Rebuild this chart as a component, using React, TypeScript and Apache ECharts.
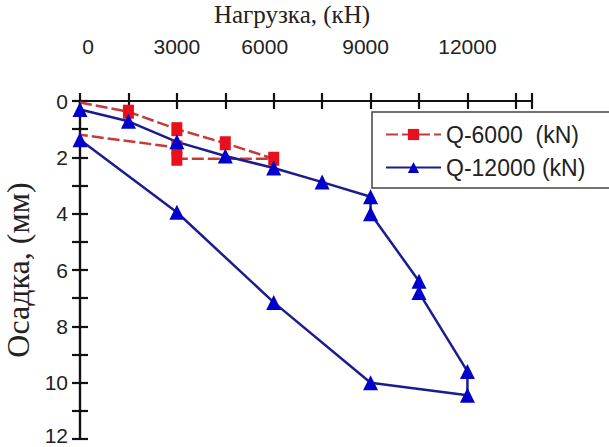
import React, { useEffect, useRef } from "react";
import * as echarts from "echarts";

// Q-6000 test: load (kN) and settlement (mm)
const load6000 = [0, 1500, 3000, 4500, 6000, 3000, 3000, 0];
const settle6000 = [0.05, 0.38, 1.0, 1.5, 2.05, 2.05, 1.65, 1.2];

// Q-12000 test: load (kN) and settlement (mm)
const load12000 = [0, 1500, 3000, 4500, 6000, 7500, 9000, 9000, 10500, 10500, 12000, 12000, 9000, 6000, 3000, 0];
const settle12000 = [0.3, 0.72, 1.45, 1.95, 2.38, 2.88, 3.4, 4.0, 6.4, 6.8, 9.6, 10.45, 10.0, 7.15, 3.95, 1.38];

const seriesNames = ["Q-6000  (kN)", "Q-12000 (kN)"];
const xTickLabels = [0, 3000, 6000, 9000, 12000];
const yTickLabels = [0, 2, 4, 6, 8, 10, 12];
const xTitle = "Нагрузка, (кН)";
const yTitle = "Осадка, (мм)";

const SANS = "Arial";
const SERIF = "Times New Roman";

export default function App() {
  const ref = useRef<HTMLDivElement>(null);
  useEffect(() => {
    if (!ref.current) return;
    const chart = echarts.init(ref.current, null, { renderer: "svg" });
    const axisLine = { show: true, lineStyle: { color: "#111", width: 2.2 } };
    const axisTick = { show: true, inside: true, length: 8, lineStyle: { color: "#111", width: 2.2 } };
    const labelFont = { fontFamily: SANS, fontSize: 21, color: "#222" };
    const lastIdx6000 = load6000.length - 1;
    const richStyle = { fontFamily: SANS, fontSize: 21, color: "#222" };
    const yMaxLabel = yTickLabels[yTickLabels.length - 1];
    chart.setOption({
      animation: false,
      backgroundColor: "#fff",
      grid: { left: 80, right: 77, top: 101, bottom: 8, containLabel: false, outerBoundsMode: "none" },
      legend: {
        data: seriesNames,
        orient: "vertical",
        left: 372,
        top: 112,
        padding: [11, 80, 9, 13],
        itemWidth: 55,
        itemHeight: 14,
        itemGap: 10,
        borderColor: "#444",
        borderWidth: 1.5,
        backgroundColor: "#fff",
        textStyle: { fontFamily: SANS, fontSize: 23, color: "#222" },
      },
      xAxis: [
        {
          type: "value",
          position: "top",
          min: 0,
          max: 14000,
          interval: 1500,
          axisLine,
          axisTick,
          splitLine: { show: false },
          axisLabel: {
            ...labelFont,
            margin: 44,
            formatter: (v: number) => {
              if (!xTickLabels.includes(v)) return "";
              if (v === 0) return "{r|" + v + "}";
              if (v === 6000) return "{l|" + v + "}";
              if (v === 9000) return "{m|" + v + "}";
              return "{n|" + v + "}";
            },
            rich: {
              r: { ...richStyle, padding: [0, 0, 0, 16] },
              l: { ...richStyle, padding: [0, 18, 0, 0] },
              m: { ...richStyle, padding: [0, 10, 0, 0] },
              n: { ...richStyle },
            },
          },
          name: xTitle,
          nameLocation: "middle",
          nameGap: 74,
          nameTextStyle: { fontFamily: SERIF, fontSize: 25, color: "#222", padding: [0, 28, 0, 0] },
        },
        {
          type: "value",
          position: "bottom",
          min: 0,
          max: 14000,
          interval: 1500,
          axisLine,
          axisTick,
          splitLine: { show: false },
          axisLabel: { show: false },
        },
      ],
      yAxis: [
        {
          type: "value",
          inverse: true,
          position: "left",
          min: 0,
          max: 12,
          interval: 1,
          axisLine,
          axisTick,
          splitLine: { show: false },
          axisLabel: {
            ...labelFont,
            margin: 12,
            formatter: (v: number) => {
              if (!yTickLabels.includes(v)) return "";
              return v === yMaxLabel ? "{b|" + v + "}" : "{n|" + v + "}";
            },
            rich: {
              n: { ...richStyle },
              b: { ...richStyle, padding: [0, 0, 7, 0] },
            },
          },
          name: yTitle,
          nameLocation: "middle",
          nameGap: 42,
          nameRotate: 90,
          nameTextStyle: { fontFamily: SERIF, fontSize: 32, color: "#222" },
        },
        {
          type: "value",
          inverse: true,
          position: "right",
          min: 0,
          max: 12,
          interval: 1,
          axisLine,
          axisTick,
          splitLine: { show: false },
          axisLabel: { show: false },
        },
      ],
      series: [
        {
          name: seriesNames[0],
          type: "line",
          xAxisIndex: 0,
          yAxisIndex: 0,
          data: load6000.map((x, i) =>
            i === 0 || i === lastIdx6000
              ? { value: [x, settle6000[i]], symbol: "none" }
              : [x, settle6000[i]]
          ),
          symbol: "rect",
          symbolSize: [11, 14],
          showAllSymbol: true,
          lineStyle: { color: "#c83a3a", width: 2.5, type: [12, 4] },
          itemStyle: { color: "#e8101c" },
          clip: false,
        },
        {
          name: seriesNames[1],
          type: "line",
          xAxisIndex: 0,
          yAxisIndex: 0,
          data: load12000.map((x, i) => [x, settle12000[i]]),
          symbol: "triangle",
          symbolSize: 15,
          showAllSymbol: true,
          lineStyle: { color: "#1c1c8e", width: 2.5 },
          itemStyle: { color: "#0000cc" },
          clip: false,
        },
      ],
    });
    return () => chart.dispose();
  }, []);
  return <div ref={ref} style={{ width: 609, height: 447, position: "absolute", left: 0, top: 0 }} />;
}
